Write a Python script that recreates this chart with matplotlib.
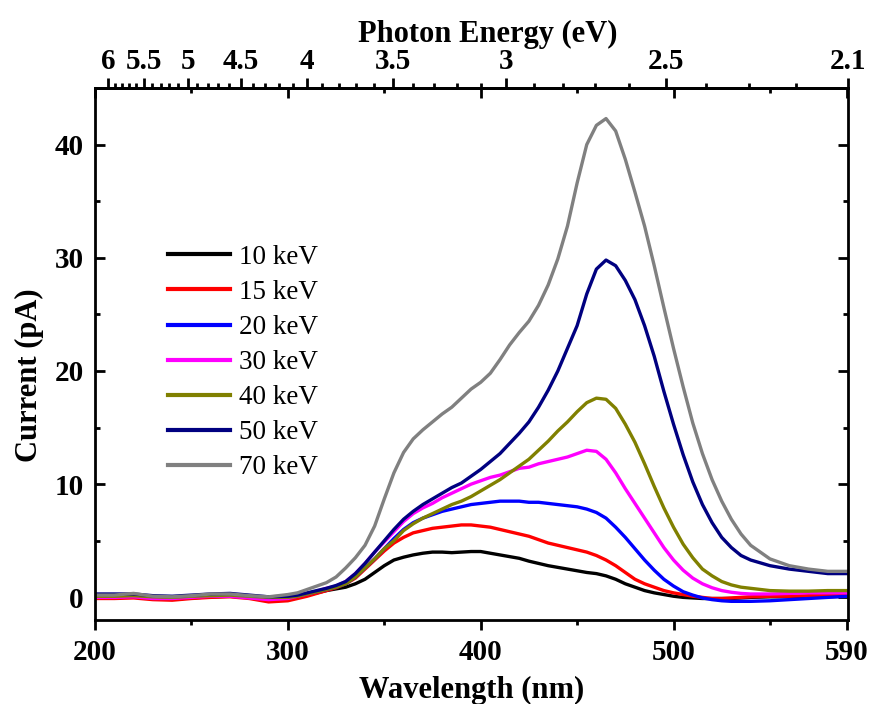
import numpy as np
import matplotlib
matplotlib.use("Agg")
import matplotlib.pyplot as plt
from matplotlib.ticker import FixedLocator

plt.rcParams['font.family'] = ['Liberation Serif', 'DejaVu Serif']
plt.rcParams['font.weight'] = 'bold'

# wavelength grid (nm): coarse on the flat baseline and tail, finer over the peaks
wavelength = list(range(200, 300, 10)) + list(range(300, 545, 5)) + list(range(550, 600, 10))

labels = ["10 keV", "15 keV", "20 keV", "30 keV", "40 keV", "50 keV", "70 keV"]
colors = ["#000000", "#ff0000", "#0000ff", "#ff00ff", "#808000", "#000080", "#808080"]

cur_10 = [0.0, 0.0, 0.05, -0.1, -0.15, -0.05, 0.05, 0.1, 0.0, -0.1,
          0.0, 0.1, 0.2, 0.4, 0.6, 0.75, 0.9, 1.2, 1.6, 2.2,
          2.8, 3.3, 3.55, 3.75, 3.9, 4.0, 4.0, 3.95, 4.0, 4.05,
          4.05, 3.9, 3.75, 3.6, 3.45, 3.2, 3.0, 2.8, 2.65, 2.5,
          2.35, 2.2, 2.1, 1.9, 1.6, 1.2, 0.9, 0.6, 0.4, 0.25,
          0.1, 0.0, -0.05, -0.1, -0.1, -0.1, -0.1, -0.05, 0.0,
          0.05, 0.05, 0.05, 0.05, 0.1]
cur_15 = [-0.1, -0.1, -0.05, -0.2, -0.25, -0.1, 0.0, 0.05, -0.1, -0.4,
          -0.3, -0.1, 0.1, 0.35, 0.6, 0.85, 1.2, 1.7, 2.5, 3.3,
          4.1, 4.8, 5.3, 5.7, 5.9, 6.1, 6.2, 6.3, 6.4, 6.4,
          6.3, 6.2, 6.0, 5.8, 5.6, 5.4, 5.1, 4.8, 4.6, 4.4,
          4.2, 4.0, 3.7, 3.3, 2.8, 2.2, 1.6, 1.2, 0.9, 0.6,
          0.4, 0.25, 0.1, 0.0, -0.1, -0.1, -0.05, 0.0, 0.05,
          0.1, 0.1, 0.15, 0.2, 0.2]
cur_20 = [0.2, 0.2, 0.15, 0.05, 0.0, 0.1, 0.2, 0.25, 0.15, 0.0,
          -0.05, 0.1, 0.3, 0.5, 0.7, 0.9, 1.2, 1.8, 2.6, 3.4,
          4.3, 5.2, 6.0, 6.6, 7.0, 7.3, 7.6, 7.8, 8.0, 8.2,
          8.3, 8.4, 8.5, 8.5, 8.5, 8.4, 8.4, 8.3, 8.2, 8.1,
          8.0, 7.8, 7.5, 7.0, 6.2, 5.3, 4.3, 3.3, 2.4, 1.6,
          1.0, 0.5, 0.2, -0.05, -0.2, -0.3, -0.35, -0.35, -0.35,
          -0.3, -0.2, -0.1, 0.0, 0.1]
cur_30 = [0.0, 0.0, 0.05, -0.1, -0.1, 0.0, 0.1, 0.1, -0.05, -0.2,
          -0.1, 0.1, 0.3, 0.55, 0.8, 1.0, 1.4, 2.1, 3.0, 4.0,
          4.9, 5.8, 6.7, 7.4, 7.9, 8.3, 8.8, 9.2, 9.6, 10.0,
          10.3, 10.6, 10.8, 11.1, 11.4, 11.5, 11.8, 12.0, 12.2, 12.4,
          12.7, 13.0, 12.9, 12.2, 11.0, 9.6, 8.3, 7.0, 5.7, 4.4,
          3.3, 2.4, 1.7, 1.2, 0.85, 0.6, 0.45, 0.35, 0.3,
          0.3, 0.35, 0.4, 0.4, 0.4]
cur_40 = [0.1, 0.1, 0.15, 0.05, 0.0, 0.1, 0.15, 0.2, 0.1, 0.0,
          0.0, 0.1, 0.3, 0.5, 0.7, 0.9, 1.2, 1.8, 2.6, 3.4,
          4.3, 5.0, 5.9, 6.5, 7.0, 7.4, 7.8, 8.2, 8.5, 8.9,
          9.4, 9.9, 10.4, 11.0, 11.6, 12.2, 13.0, 13.8, 14.7, 15.5,
          16.4, 17.2, 17.6, 17.5, 16.7, 15.3, 13.7, 11.8, 9.8, 7.9,
          6.2, 4.7, 3.5, 2.5, 1.9, 1.4, 1.1, 0.9, 0.8,
          0.6, 0.55, 0.55, 0.6, 0.6]
cur_50 = [0.3, 0.3, 0.3, 0.15, 0.1, 0.2, 0.3, 0.35, 0.2, 0.05,
          0.1, 0.2, 0.4, 0.6, 0.8, 1.05, 1.4, 2.1, 3.0, 4.0,
          5.0, 6.0, 6.9, 7.6, 8.2, 8.7, 9.2, 9.7, 10.1, 10.7,
          11.3, 12.0, 12.7, 13.6, 14.5, 15.5, 16.8, 18.3, 20.0, 22.0,
          24.0, 26.8, 29.0, 29.8, 29.3, 28.0, 26.3, 24.0, 21.3, 18.2,
          15.3, 12.6, 10.2, 8.2, 6.6, 5.3, 4.4, 3.7, 3.3,
          2.8, 2.5, 2.3, 2.1, 2.1]
cur_70 = [0.2, 0.2, 0.35, 0.1, 0.05, 0.15, 0.3, 0.3, 0.15, 0.05,
          0.25, 0.4, 0.7, 1.0, 1.3, 1.8, 2.6, 3.5, 4.6, 6.3,
          8.7, 11.0, 12.8, 14.0, 14.8, 15.5, 16.2, 16.8, 17.6, 18.4,
          19.0, 19.8, 21.0, 22.3, 23.4, 24.4, 25.8, 27.6, 29.9, 32.8,
          36.6, 40.0, 41.7, 42.3, 41.2, 38.7, 35.8, 32.8, 29.3, 25.6,
          22.0, 18.6, 15.4, 12.7, 10.4, 8.5, 6.9, 5.6, 4.6,
          3.4, 2.8, 2.5, 2.3, 2.3]
series = [cur_10, cur_15, cur_20, cur_30, cur_40, cur_50, cur_70]

wl_ticks = [200, 300, 400, 500, 590]
wl_minor = [250, 350, 450, 550]
ev_ticks = [6, 5.5, 5, 4.5, 4, 3.5, 3, 2.5, 2.1]
ev_labels = ["6", "5.5", "5", "4.5", "4", "3.5", "3", "2.5", "2.1"]
ev_minor = [5.9, 5.8, 5.7, 5.6, 5.4, 5.3, 5.2, 5.1, 4.9, 4.8, 4.7, 4.6,
            4.4, 4.3, 4.2, 4.1, 3.9, 3.8, 3.7, 3.6, 3.4, 3.3, 3.2, 3.1,
            2.9, 2.8, 2.7, 2.6, 2.4, 2.3, 2.2]

fig = plt.figure(figsize=(8.72, 7.04), dpi=100)
ax = fig.add_axes([0.109, 0.1193, 0.8635, 0.7557])

for y, c, lab in zip(series, colors, labels):
    ax.plot(wavelength, y, color=c, lw=2.4, label=lab)

ax.set_xlim(200, 590.5)
ax.set_ylim(-2, 45)
ax.set_xticks(wl_ticks)
ax.set_xticks(wl_minor, minor=True)
ax.set_yticks([0, 10, 20, 30, 40])
ax.yaxis.set_minor_locator(FixedLocator([5, 15, 25, 35]))

for s in ax.spines.values():
    s.set_linewidth(2)

ax.tick_params(axis='x', which='major', direction='out', length=7, width=2,
               labelsize=21, pad=7)
ax.tick_params(axis='x', which='minor', direction='out', length=3.5, width=2)
ax.tick_params(axis='y', which='major', direction='in', length=7, width=2,
               right=True, labelsize=21, pad=8)
ax.tick_params(axis='y', which='minor', direction='in', length=3.5, width=2,
               right=True)

ax.set_xlabel("Wavelength (nm)", fontsize=22, fontweight='bold', labelpad=7)
ax.set_ylabel("Current (pA)", fontsize=22, fontweight='bold', labelpad=8)
ax.yaxis.label.set_y(0.46)

# mirrored wavelength ticks pointing inward on the top spine
mirror = ax.secondary_xaxis('top')
mirror.set_xticks(wl_ticks)
mirror.set_xticks(wl_minor, minor=True)
mirror.tick_params(which='major', direction='in', length=7, width=2, labeltop=False)
mirror.tick_params(which='minor', direction='in', length=3.5, width=2)
mirror.spines['top'].set_linewidth(2)

# photon energy axis
energy = ax.secondary_xaxis('top', functions=(lambda x: 1240.0 / np.asarray(x, float),
                                              lambda e: 1240.0 / np.asarray(e, float)))
energy.set_xticks(ev_ticks)
energy.set_xticklabels(ev_labels)
energy.xaxis.set_minor_locator(FixedLocator(ev_minor))
energy.tick_params(which='major', direction='out', length=7, width=2,
                   labelsize=21, pad=2)
energy.tick_params(which='minor', direction='out', length=3.5, width=2)
energy.spines['top'].set_linewidth(2)
energy.set_xlabel("Photon Energy (eV)", fontsize=22, fontweight='bold', labelpad=5, x=0.522)

leg = ax.legend(loc='upper left', bbox_to_anchor=(0.097, 0.705), frameon=False,
                prop={'family': 'Liberation Serif', 'weight': 'normal', 'size': 19.5},
                handlelength=2.3, handletextpad=0.3, labelspacing=0.37,
                borderpad=0, borderaxespad=0)
for h in leg.get_lines():
    h.set_linewidth(3)

fig.savefig("out.png", dpi=100)
